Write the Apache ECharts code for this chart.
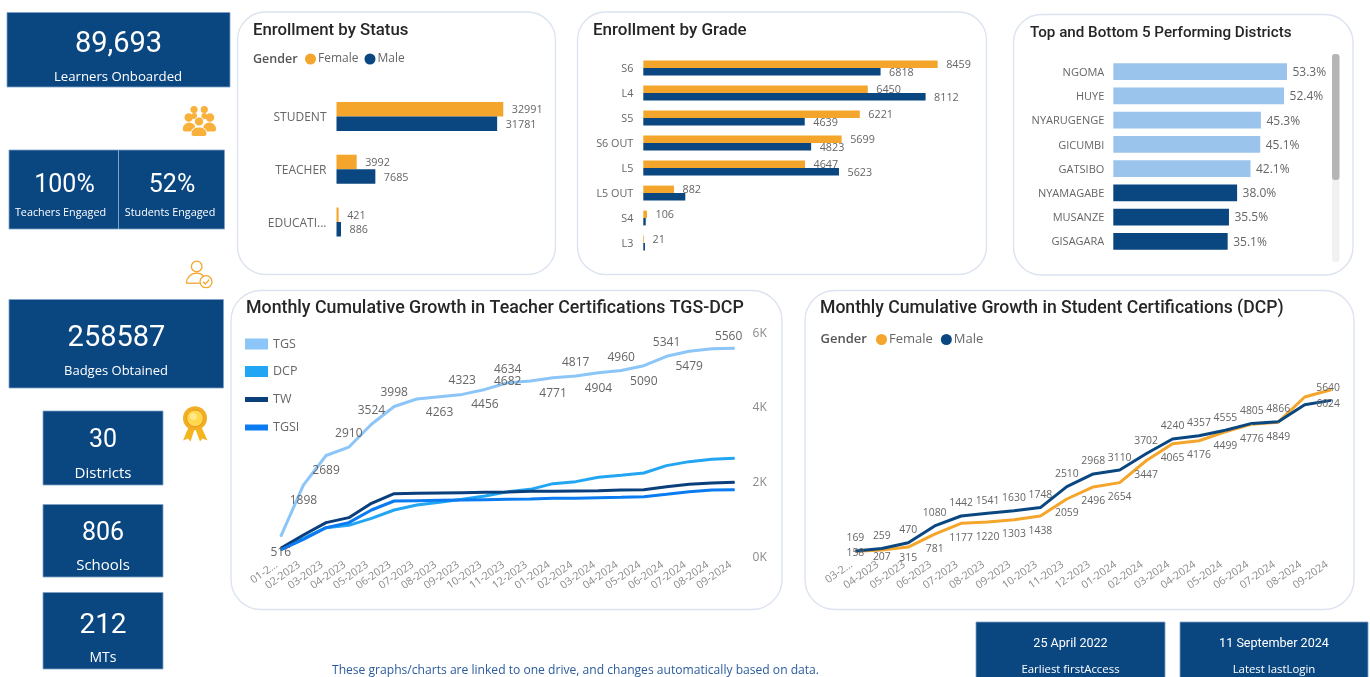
<!DOCTYPE html>
<html><head><meta charset="utf-8">
<script src="https://cdn.jsdelivr.net/npm/echarts@6/dist/echarts.min.js"></script>
<style>html,body{margin:0;padding:0;background:#fff;overflow:hidden}#c{width:1370px;height:677px}</style>
</head><body><div id="c"></div>
<script>
// ---------- data ----------
const statusCats = ['STUDENT','TEACHER','EDUCATI...'];
const statusFemale = [32991,3992,421];
const statusMale = [31781,7685,886];

const gradeCats = ['S6','L4','S5','S6 OUT','L5','L5 OUT','S4','L3'];
const gradeFemale = [8459,6450,6221,5699,4647,882,106,21];
const gradeMale = [6818,8112,4639,4823,5623,1207,70,48];
const gradeMaleUnlabelled = ['L5 OUT','S4','L3'];

const districtCats = ['NGOMA','HUYE','NYARUGENGE','GICUMBI','GATSIBO','NYAMAGABE','MUSANZE','GISAGARA'];
const districtValues = [53.3,52.4,45.3,45.1,42.1,38.0,35.5,35.1];
const districtTopCount = 5;

const teacherMonths = ['01-2...','02-2023','03-2023','04-2023','05-2023','06-2023','07-2023','08-2023','09-2023','10-2023','11-2023','12-2023','01-2024','02-2024','03-2024','04-2024','05-2024','06-2024','07-2024','08-2024','09-2024'];
const tgs = [516,1898,2689,2910,3524,3998,4200,4263,4323,4456,4634,4682,4771,4817,4904,4960,5090,5341,5479,5545,5560];
const dcp = [178,473,758,820,1008,1231,1364,1436,1516,1605,1721,1783,1935,1989,2105,2158,2220,2417,2524,2586,2613];
const tw = [205,562,892,1026,1409,1668,1676,1685,1694,1703,1712,1730,1730,1739,1748,1766,1775,1855,1917,1953,1971];
const tgsi = [161,446,758,892,1231,1471,1480,1489,1498,1507,1516,1525,1543,1543,1561,1570,1587,1650,1721,1766,1775];
const teacherTicks = [0,2000,4000,6000];

const studentMonths = ['03-2...','04-2023','05-2023','06-2023','07-2023','08-2023','09-2023','10-2023','11-2023','12-2023','01-2024','02-2024','03-2024','04-2024','05-2024','06-2024','07-2024','08-2024','09-2024'];
const studentFemale = [158,207,315,781,1177,1220,1303,1438,2059,2496,2654,3447,4065,4176,4499,4776,4849,5763,6024];
const studentMale = [169,259,470,1080,1442,1541,1630,1748,2510,2968,3110,3702,4240,4357,4555,4805,4866,5484,5640];

// ---------- label placement (not data) ----------
const tgsLabelPos = ['b','b','b','t','t','t','','b','t','b','t','m','b','t','b','t','b','t','b','','t'];

// ---------- styles ----------
const NAVY='#0A4780', ORANGE='#F4A52B', LIGHT='#9AC4EC', GREY='#666', AXIS='#8a8a8a';
const BODY='"Open Sans",sans-serif', HEAD='Roboto,sans-serif';

const g=[];
function card(x,y,x2,y2,r){g.push({type:'rect',shape:{x,y,width:x2-x,height:y2-y,r},style:{fill:'#fff',stroke:'#DCE4EF',lineWidth:1.4},silent:true});}
function box(x,y,x2,y2){g.push({type:'rect',shape:{x,y,width:x2-x,height:y2-y},style:{fill:NAVY,stroke:'#7FA2C8',lineWidth:.8},silent:true});}
function txt(text,x,y,size,fill,family,weight,align){g.push({type:'text',x,y,style:{text,fill:fill||'#fff',font:(weight||'normal')+' '+size+'px '+(family||BODY),textAlign:align||'center',textVerticalAlign:'middle'},silent:true});}
function circ(cx,cy,r,fill,stroke,lw){g.push({type:'circle',shape:{cx,cy,r},style:{fill:fill||'none',stroke:stroke||null,lineWidth:lw||1},silent:true});}
function rrect(x,y,w,h,r,fill,stroke){g.push({type:'rect',shape:{x,y,width:w,height:h,r},style:{fill,stroke:stroke||null,lineWidth:1},silent:true});}
function poly(points,fill){g.push({type:'polygon',shape:{points},style:{fill},silent:true});}
function pline(points,stroke,lw){g.push({type:'polyline',shape:{points},style:{stroke,lineWidth:lw,fill:'none'},silent:true});}

card(237.5,12,555.5,274.5,28); card(577.5,12,986.5,274.5,28); card(1013.5,14.5,1353,275,28);
card(231,290.5,782,609.5,30); card(805,290.5,1354,609.5,30);

box(7,12.5,230,87); txt('89,693',118.5,45,29,'#fff',HEAD); txt('Learners Onboarded',118,77,13.2);
box(9,150,224.5,229); g.push({type:'line',shape:{x1:118.5,y1:150,x2:118.5,y2:229},style:{stroke:'#7FA2C8',lineWidth:1},silent:true});
txt('100%',64.5,186,25,'#fff',HEAD); txt('Teachers Engaged',60.5,213,10.8);
txt('52%',172,186,25,'#fff',HEAD); txt('Students Engaged',170,213,10.8);
box(9,299.5,223.5,388); txt('258587',116.5,339,29,'#fff',HEAD); txt('Badges Obtained',116,371,13);
box(43,411,163,485); txt('30',103,441,25,'#fff',HEAD); txt('Districts',103,473.5,15);
box(43,504.5,163,577); txt('806',103,534,25,'#fff',HEAD); txt('Schools',103,566,15);
box(43,592.5,163,669); txt('212',103,626,28,'#fff',HEAD); txt('MTs',103,658.5,14);
box(976,622,1165,690); txt('25 April 2022',1070.5,644,12.6,'#fff',HEAD); txt('Earliest firstAccess',1070.5,670,11.4);
box(1180,622,1368,690); txt('11 September 2024',1274,644,12.6,'#fff',HEAD); txt('Latest lastLogin',1274,670,11.4);
txt('These graphs/charts are linked to one drive, and changes automatically based on data.',575.5,671,12.1,'#2B5C9E');

// gender captions
txt('Gender',253,59.5,12.5,'#555',BODY,'600','left');
txt('Gender',820.5,339.5,13,'#555',BODY,'600','left');

// scrollbar
rrect(1332,54,7.5,208,3,'#F1F1F1'); rrect(1332,54,7.5,126,3,'#B5B5B5');

// people icon
const IC='#F8B13A';
circ(194,109.5,3.6,IC); circ(204.3,109.5,3.6,IC);
rrect(191.5,113,5.5,6,2.5,IC); rrect(201.5,113,5.5,6,2.5,IC);
circ(188.7,117.5,4.2,IC); circ(210,117.5,4.2,IC);
rrect(182.8,122.5,13,9,[6.5,6.5,2,2],IC); rrect(202.8,122.5,13.2,9,[6.5,6.5,2,2],IC);
circ(199,121.5,4.6,IC,'#fff',1);
rrect(191,127,16,9.5,[7.5,7.5,3,3],IC,'#fff');

// person-check icon
circ(196.7,266.5,5.3,'#fff','#F4A52B',1.3);
g.push({type:'arc',shape:{cx:196.5,cy:283.2,r:10,startAngle:Math.PI,endAngle:Math.PI*1.8,clockwise:true},style:{fill:'none',stroke:'#F4A52B',lineWidth:1.3},silent:true});
pline([[186.5,283.2],[199.5,283.2]],'#F4A52B',1.3);
circ(206,281.7,6,'#fff','#F4A52B',1.3);
pline([[203,281.7],[205.4,284],[209.2,279.6]],'#F4A52B',1.3);

// medal icon
poly([[189,426],[183,440.5],[188,438.5],[190.5,441.5],[195,428]],'#F5B51E');
poly([[201,426],[207.5,440.5],[202.5,438.5],[200,441.5],[195,428]],'#F5B51E');
circ(195,418.3,12,'#F2AE25'); circ(195,418.3,8.4,'#FFD84D','#E59A1C',1); circ(193.5,416.5,3.5,'#FFE98A');

// ---------- options ----------
const valueLabel=(dist,size)=>({show:true,position:'right',distance:dist,offset:[0,1],color:GREY,fontSize:size,fontFamily:BODY});
const hiddenAxis=(gridIndex,max)=>({type:'value',gridIndex,min:0,max,show:false,splitLine:{show:false}});
const richLabel=(color,size,padding,margin,fmt)=>({color,fontSize:size,fontFamily:BODY,margin,interval:0,
  formatter:v=>'{a|'+(fmt?fmt(v):v)+'}',rich:{a:{color,fontSize:size,fontFamily:BODY,padding}}});
const catAxis=(gridIndex,data,size,margin,pad)=>({type:'category',gridIndex,data,inverse:true,axisLine:{show:false},axisTick:{show:false},splitLine:{show:false},axisLabel:richLabel(GREY,size,[pad,0,0,0],margin)});
const monthAxis=(gridIndex,data)=>({type:'category',gridIndex,data,boundaryGap:false,axisLine:{show:false},axisTick:{show:false},splitLine:{show:false},axisLabel:Object.assign(richLabel(AXIS,10.7,[0,5,0,0],5),{rotate:35})});

const tgsData=tgs.map((v,i)=>{
  const p=tgsLabelPos[i];
  if(!p) return {value:v,label:{show:false}};
  if(p==='m') return {value:v,label:{show:true,position:'inside',offset:[-22.7,1]}};
  const o={value:v,label:{show:true,position:p==='t'?'top':'bottom',distance:8,offset:[0,1]}};
  if(i===tgs.length-1) o.label.offset=[-6,3];
  return o;
});
const lineSeries=(name,data,color,x,extra)=>Object.assign({type:'line',name,data,xAxisIndex:x,yAxisIndex:x,smooth:false,symbol:'circle',symbolSize:1,showAllSymbol:true,lineStyle:{color,width:3},itemStyle:{color},emphasis:{disabled:true},animation:false},extra||{});
const lblStyle={color:GREY,fontSize:12,fontFamily:BODY};

const femaleOffsets={0:[0,-12],1:[0,-6],2:[0,-2]};
const femaleData=studentFemale.map((v,i)=>{
  if(i===17) return {value:v,label:{show:false}};
  const l={show:true,position:'bottom',distance:8,offset:[0,1]};
  if(i===18) l.offset=[-3,1];
  if(femaleOffsets[i]) l.offset=femaleOffsets[i];
  return {value:v,label:l};
});
const maleData=studentMale.map((v,i)=>{
  if(i===17) return {value:v,label:{show:false}};
  const l={show:true,position:'top',distance:8,offset:[0,1]};
  if(i===18) l.offset=[-3,1];
  return {value:v,label:l};
});
const sLbl={color:GREY,fontSize:10.4,fontFamily:BODY};

const title=(text,left,top,size)=>({text,left,top,padding:0,textStyle:{fontFamily:HEAD,fontWeight:500,fontSize:size,color:'#262626'}});
const genderLegend=(left,top,size,gap)=>({data:['Female','Male'],left,top,padding:0,icon:'circle',itemWidth:11,itemHeight:11,itemGap:gap,selectedMode:false,textStyle:{color:GREY,fontSize:size,fontFamily:BODY,padding:[0,0,0,-3]}});
const keyLegend=(name,top,h)=>({data:[name],left:245,top,padding:0,icon:'rect',itemWidth:23,itemHeight:h,selectedMode:false,textStyle:{color:GREY,fontSize:12.5,fontFamily:BODY}});

const option={
  backgroundColor:'#fff',animation:false,
  title:[
    title('Enrollment by Status',253,22.5,16.8),
    title('Enrollment by Grade',593,22.5,17),
    title('Top and Bottom 5 Performing Districts',1030,26,15.2),
    title('Monthly Cumulative Growth in Teacher Certifications TGS-DCP',246,300,17.8),
    title('Monthly Cumulative Growth in Student Certifications (DCP)',820,300,17.6)
  ],
  legend:[
    genderLegend(305,53,12,6),
    genderLegend(876,333,13,8),
    keyLegend('TGS',337.5,11),
    keyLegend('DCP',365,11),
    keyLegend('TW',393,5),
    keyLegend('TGSI',421,6)
  ],
  grid:[
    {left:336.5,top:90,width:202.2,height:158.4,outerBoundsMode:'none'},
    {left:643.3,top:55.5,width:348,height:200,outerBoundsMode:'none'},
    {left:1113.3,top:59.6,width:195.5,height:193.8,outerBoundsMode:'none'},
    {left:280.7,top:331.7,width:453.9,height:224.3,outerBoundsMode:'none'},
    {left:855.4,top:335.4,width:475.7,height:220.3,outerBoundsMode:'none'}
  ],
  xAxis:[hiddenAxis(0,40000),hiddenAxis(1,10000),hiddenAxis(2,60),monthAxis(3,teacherMonths),monthAxis(4,studentMonths)],
  yAxis:[
    catAxis(0,statusCats,12,10,3),
    catAxis(1,gradeCats,10.8,10,2),
    catAxis(2,districtCats,11,9,2),
    {type:'value',gridIndex:3,min:0,max:teacherTicks[teacherTicks.length-1],interval:2000,position:'right',axisLine:{show:false},axisTick:{show:false},splitLine:{show:false},axisLabel:richLabel(AXIS,12,[3,0,0,0],18,v=>(v/1000)+'K')},
    {type:'value',gridIndex:4,min:0,max:8000,show:false,splitLine:{show:false}}
  ],
  graphic:{elements:g},
  series:[
    {type:'bar',name:'Female',xAxisIndex:0,yAxisIndex:0,data:statusFemale,barWidth:14.5,barGap:0,itemStyle:{color:ORANGE},label:valueLabel(8.5,10.8)},
    {type:'bar',name:'Male',xAxisIndex:0,yAxisIndex:0,data:statusMale,barWidth:14.5,barGap:0,itemStyle:{color:NAVY},label:valueLabel(8.5,10.8)},
    {type:'bar',name:'Female',xAxisIndex:1,yAxisIndex:1,data:gradeFemale,barWidth:7.4,barGap:0,itemStyle:{color:ORANGE},label:valueLabel(8.5,10.8)},
    {type:'bar',name:'Male',xAxisIndex:1,yAxisIndex:1,barWidth:7.4,barGap:0,itemStyle:{color:NAVY},label:valueLabel(8.5,10.8),
      data:gradeMale.map((v,i)=>gradeMaleUnlabelled.includes(gradeCats[i])?{value:v,label:{show:false}}:v)},
    {type:'bar',xAxisIndex:2,yAxisIndex:2,barWidth:16.7,label:Object.assign(valueLabel(5.5,12),{formatter:p=>Number(p.value).toFixed(1)+'%'}),
      data:districtValues.map((v,i)=>({value:v,itemStyle:{color:i<districtTopCount?LIGHT:NAVY}}))},
    lineSeries('TGS',tgsData,'#8CC5F7',3,{label:lblStyle,z:3}),
    lineSeries('DCP',dcp,'#22A5F2',3),
    lineSeries('TW',tw,'#0A3F7C',3),
    lineSeries('TGSI',tgsi,'#0A7BF0',3),
    lineSeries('Female',femaleData,ORANGE,4,{label:sLbl}),
    lineSeries('Male',maleData,NAVY,4,{label:sLbl})
  ]
};
const chart=echarts.init(document.getElementById('c'),null,{renderer:'canvas',width:1370,height:677});
chart.setOption(option);
</script></body></html>
